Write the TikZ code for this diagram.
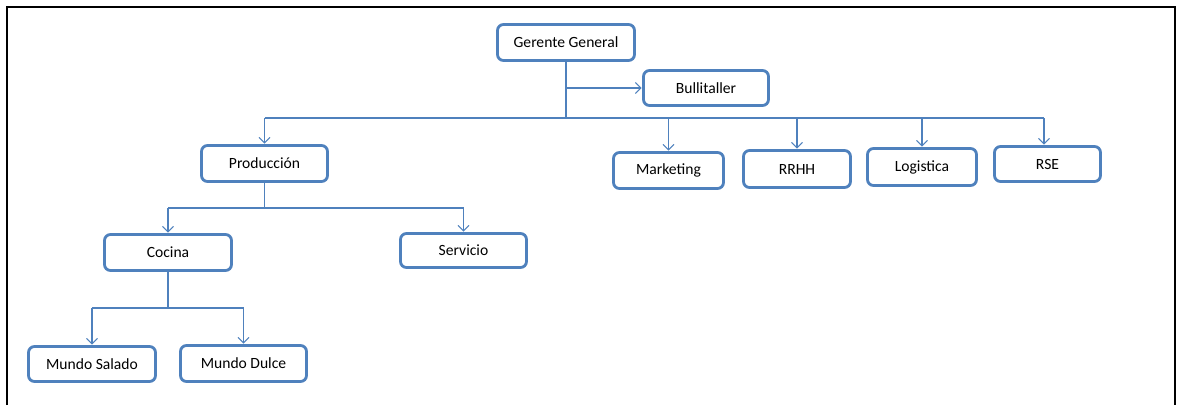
\documentclass[tikz,border=0pt]{standalone}
\usepackage{fontspec}
\setmainfont{Carlito}
\usetikzlibrary{arrows.meta}
\definecolor{orgblue}{HTML}{4F81BD}
\begin{document}
\begin{tikzpicture}[x=1pt,y=-1pt,
  unit/.style={draw=orgblue, line width=2.8pt, rounded corners=6pt, fill=white,
    inner sep=0pt, font=\fontsize{15.6}{18}\selectfont},
  link/.style={draw=orgblue, line width=1.2pt},
  tip/.style={link, shorten >=0.5pt, -{Straight Barb[length=5.5pt,width=11pt,line width=1pt]}}]
\useasboundingbox (0,0) rectangle (1178,405);
% outer frame
\draw[line width=2pt] (7,405) -- (7,7) -- (1175,7) -- (1175,405);

% units
\node[unit, minimum width=137pt, minimum height=36pt] (gg)   at (566,42.5)   {Gerente General};
\node[unit, minimum width=125pt, minimum height=35pt] (bull) at (706,88)     {Bullitaller};
\node[unit, minimum width=126pt, minimum height=36pt] (prod) at (264.5,163.5) {Producción};
\node[unit, minimum width=110pt, minimum height=36pt] (mkt)  at (668.5,170.5) {Marketing};
\node[unit, minimum width=107pt, minimum height=37pt] (rrhh) at (797,169)    {RRHH};
\node[unit, minimum width=109pt, minimum height=37pt] (log)  at (922,167)    {Logistica};
\node[unit, minimum width=106pt, minimum height=35pt] (rse)  at (1047.5,164) {RSE};
\node[unit, minimum width=127pt, minimum height=36pt] (coc)  at (168,252.5)  {Cocina};
\node[unit, minimum width=126pt, minimum height=34pt] (serv) at (463.5,250.5) {Servicio};
\node[unit, minimum width=127pt, minimum height=35pt] (ms)   at (92,364)     {Mundo Salado};
\node[unit, minimum width=126pt, minimum height=36pt] (md)   at (243.5,363.5) {Mundo Dulce};

% levels of the distribution lines
\coordinate (bus)  at (0,118);
\coordinate (pbus) at (0,208);
\coordinate (cbus) at (0,308);
\coordinate (rsein) at ([xshift=-3.5pt]rse.north);

% top level
\draw[link] (gg.south) -- (gg.south |- bus);
\draw[tip] (gg.south |- bull.west) -- (bull.west);
\draw[link] (prod.north |- bus) -- (rsein |- bus);
\foreach \nd in {prod,mkt,rrhh,log}
  \draw[tip] (\nd.north |- bus) -- (\nd.north);
\draw[tip] (rsein |- bus) -- (rsein);

% production branch
\draw[link] (prod.south) -- (prod.south |- pbus);
\draw[link] (coc.north |- pbus) -- (serv.north |- pbus);
\draw[tip] (coc.north |- pbus) -- (coc.north);
\draw[tip] (serv.north |- pbus) -- (serv.north);

% kitchen branch
\draw[link] (coc.south) -- (coc.south |- cbus);
\draw[link] (ms.north |- cbus) -- (md.north |- cbus);
\draw[tip] (ms.north |- cbus) -- (ms.north);
\draw[tip] (md.north |- cbus) -- (md.north);
\end{tikzpicture}
\end{document}
